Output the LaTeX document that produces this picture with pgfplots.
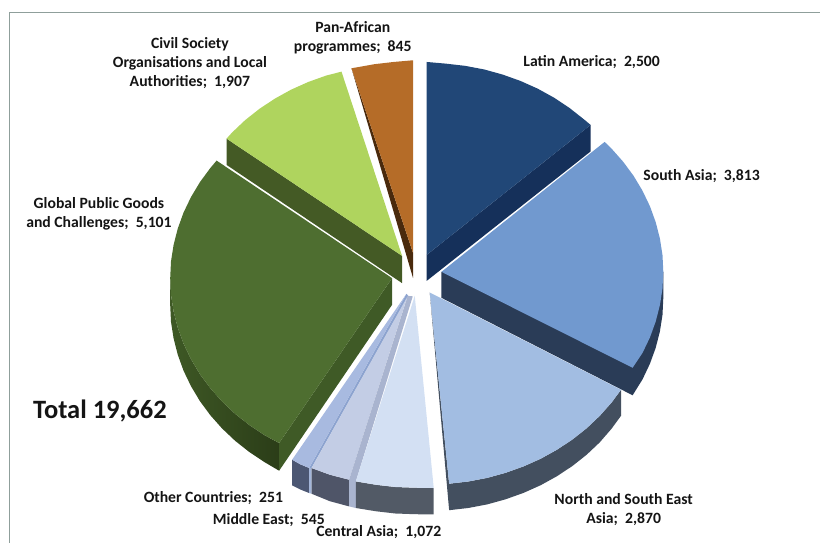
\documentclass[border=0pt]{standalone}
\usepackage{fontspec}
\setmainfont{Carlito}
\usepackage{pgfplots}
\pgfplotsset{compat=1.18}
% Slice colours: top faces and side walls
\definecolor{latinT}{HTML}{214777}
\definecolor{latinS}{HTML}{15305A}
\definecolor{southT}{HTML}{7199CF}
\definecolor{southS}{HTML}{2A3C57}
\definecolor{northT}{HTML}{A2BDE2}
\definecolor{northS}{HTML}{434F5F}
\definecolor{centT}{HTML}{D3E0F3}
\definecolor{centS}{HTML}{525A66}
\definecolor{centB}{HTML}{A9B4CF}
\definecolor{midT}{HTML}{C3CDE5}
\definecolor{midS}{HTML}{4F5568}
\definecolor{othT}{HTML}{A8BAE0}
\definecolor{othS}{HTML}{4C5773}
\definecolor{othB}{HTML}{8CA3CF}
\definecolor{globT}{HTML}{4E6E30}
\definecolor{globS}{HTML}{3F5A26}
\definecolor{globA}{HTML}{3C5523}
\definecolor{globB}{HTML}{2B3D18}
\definecolor{civT}{HTML}{AFD45E}
\definecolor{civS}{HTML}{445A25}
\definecolor{panT}{HTML}{B56C28}
\definecolor{panS}{HTML}{4A2A0D}
\definecolor{frameC}{HTML}{8F9F9B}
\pgfplotsset{face/.style={draw=none,fill=#1,mark=none,forget plot}}
\tikzset{lbl/.style={font=\fontsize{15.7}{19}\selectfont\bfseries,align=center,inner sep=0pt,text=black!92,yshift=-1.5pt}}
\begin{document}
\begin{tikzpicture}
\begin{axis}[
  scale only axis,width=820pt,height=543pt,
  xmin=0,xmax=820,ymin=0,ymax=543,y dir=reverse,
  hide axis,clip=false]

% Page extent
\addplot[draw=none,mark=none,forget plot] coordinates {(0,0) (820,543)};

% Frame
\addplot[draw=frameC,line width=1pt,mark=none,forget plot] coordinates {(9.5,543) (9.5,12.5) (820,12.5)};

% Pan-African programmes
\addplot[face=panS] coordinates {(351.7,68.3) (413.3,278.3) (413.3,253.3)} --cycle;
\addplot[face=panT] coordinates {(413.3,253.3) (351.7,68.3) (355.8,67.6) (374.8,64.2) (393.9,62) (413.3,60.3)} --cycle;

% Civil Society Organisations and Local Authorities
\addplot[face=civS] coordinates {(226.7,138.7) (226.7,165) (402.3,283.3) (402.3,256)} --cycle;
\addplot[face=civT] coordinates {(402.3,256) (226.7,138.7) (232.2,132.6) (245.3,120.2) (259.6,108.9) (275,98.7) (291.3,89.7) (308.5,82) (326.4,75.6) (341.7,71.7)} --cycle;

% Global Public Goods and Challenges
\addplot[draw=none,left color=globS!70!globA,right color=globB,mark=none,forget plot] coordinates {(279.3,443.3) (265,435.6) (249.6,425.4) (235.3,414.1) (222.2,401.7) (210.4,388.4) (200,374.3) (191.1,359.4) (183.7,344) (177.9,328) (173.7,311.6) (171.1,295) (170.3,278.3) (170.3,305.3) (171.1,322) (173.7,338.6) (177.9,355) (183.7,371) (191.1,386.4) (200,401.3) (210.4,415.4) (222.2,428.7) (235.3,441.1) (249.6,452.4) (265,462.6) (279.3,471)} --cycle;
\addplot[face=globS] coordinates {(392.3,278.3) (279.3,443.3) (279.3,471) (392.3,305)} --cycle;
\addplot[face=globT] coordinates {(392.3,278.3) (279.3,443.3) (265,435.6) (249.6,425.4) (235.3,414.1) (222.2,401.7) (210.4,388.4) (200,374.3) (191.1,359.4) (183.7,344) (177.9,328) (173.7,311.6) (171.1,295) (170.3,278.3) (171.1,261.6) (173.7,245) (177.9,228.6) (183.7,212.6) (191.1,197.2) (200,182.3) (210.4,168.2) (216.7,160.7)} --cycle;

% Other Countries
\addplot[face=othS] coordinates {(292.3,460) (300.5,464.6) (309.3,468.3) (309.3,493.3) (300.5,489.8) (292.3,485.7)} --cycle;
\addplot[face=othB] coordinates {(406.7,294) (309.3,468.3) (311.7,468.3) (408.5,296)} --cycle;
\addplot[face=othB!80!white] coordinates {(309.3,468.3) (311.7,468.3) (311.7,494) (309.3,493.3)} --cycle;
\addplot[face=othT] coordinates {(406.7,294) (292.3,460) (300.5,464.6) (309.3,468.3)} --cycle;

% Middle East
\addplot[face=midS] coordinates {(311.7,468.3) (330,475) (349.3,480) (349.3,506.7) (330,501.5) (311.7,494)} --cycle;
\addplot[face=midT] coordinates {(407.5,297) (311.7,468.3) (330,475) (349.3,480)} --cycle;
\addplot[face=centB] coordinates {(408,296) (349.3,480) (349.3,506.7) (356,508.3) (356,482) (413,296.5)} --cycle;

% Central Asia
\addplot[face=centS] coordinates {(356,481.7) (376.4,485.1) (395.6,487.3) (415,488) (434,488.3) (434,514.8) (415,514.5) (395.6,513.8) (376.4,511.6) (356,508.3)} --cycle;
\addplot[face=centT] coordinates {(415,296) (356,481.7) (376.4,485.1) (395.6,487.3) (415,488) (434,488.3)} --cycle;

% South Asia
\addplot[face=southS] coordinates {(441.7,272) (441.7,298) (633,395.5) (642.9,379.6) (650.3,364) (656.1,348) (660.3,331.6) (662.9,315) (663.7,298) (663.7,272)} --cycle;
\addplot[face=southT] coordinates {(441.7,272) (605,142) (611.8,148.6) (623.6,161.9) (634,176) (642.9,190.9) (650.3,206.3) (656.1,222.3) (660.3,238.7) (662.9,255.3) (663.7,272) (662.9,288.7) (660.3,305.3) (656.1,321.7) (650.3,337.7) (642.9,353.1) (633,368)} --cycle;

% North and South East Asia
\addplot[face=northS] coordinates {(621.4,390) (611.9,402.8) (600.1,416.1) (587,428.5) (572.7,439.8) (557.3,450) (541,459) (523.8,466.7) (505.9,473.1) (487.5,478.2) (468.5,481.8) (449.4,484) (449.4,510.5) (468.5,508.3) (487.5,504.7) (505.9,499.6) (523.8,493.2) (541,485.5) (557.3,476.5) (572.7,466.3) (587,455) (600.1,442.6) (611.9,429) (621.4,416)} --cycle;
\addplot[face=northS] coordinates {(430,292.7) (449.4,484) (449.4,510.5)} --cycle;
\addplot[face=northT] coordinates {(430,292.7) (621.4,390) (611.9,402.8) (600.1,416.1) (587,428.5) (572.7,439.8) (557.3,450) (541,459) (523.8,466.7) (505.9,473.1) (487.5,478.2) (468.5,481.8) (449.4,484)} --cycle;

% Latin America
\addplot[face=latinS] coordinates {(591,125) (591,151.5) (427,281) (427,255)} --cycle;
\addplot[face=latinT] coordinates {(427,255) (427,62) (446.4,63.7) (465.5,65.9) (484.5,69.5) (502.9,74.6) (520.8,81) (538,88.7) (554.3,97.7) (569.7,107.9) (584,119.2) (591,125)} --cycle;

% Slice labels
\node[lbl] at (axis cs:592,61) {Latin America;\ \ 2,500};
\node[lbl] at (axis cs:702,175) {South Asia;\ \ 3,813};
\node[lbl] at (axis cs:624,508) {North and South East\\Asia;\ \ 2,870};
\node[lbl] at (axis cs:379,531) {Central Asia;\ \ 1,072};
\node[lbl] at (axis cs:269,519) {Middle East;\ \ 545};
\node[lbl] at (axis cs:213.5,497) {Other Countries;\ \ 251};
\node[lbl] at (axis cs:99,212.5) {Global Public Goods\\and Challenges;\ \ 5,101};
\node[lbl] at (axis cs:190,62) {Civil Society\\Organisations and Local\\Authorities;\ \ 1,907};
\node[lbl] at (axis cs:353,36.5) {Pan-African\\programmes;\ \ 845};
\node[lbl,font=\fontsize{26.5}{30}\selectfont\bfseries] at (axis cs:100,410) {Total 19,662};
\end{axis}
\end{tikzpicture}
\end{document}
